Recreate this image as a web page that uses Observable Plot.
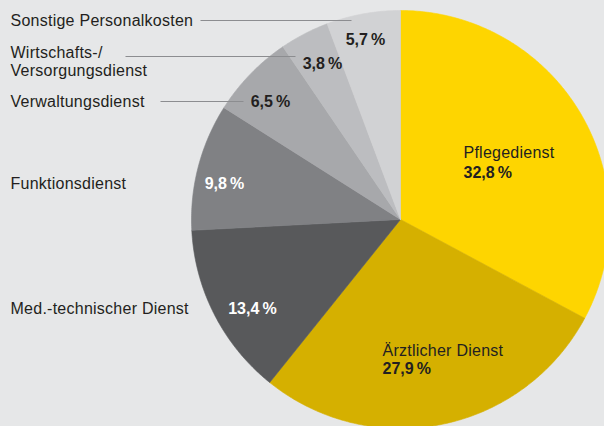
<!DOCTYPE html>
<html><head><meta charset="utf-8">
<script src="https://cdn.jsdelivr.net/npm/d3@7"></script>
<script src="https://cdn.jsdelivr.net/npm/@observablehq/plot@0.6"></script>
<style>
html,body{margin:0;padding:0;background:#e6e7e8;}
#chart{width:604px;height:426px;overflow:hidden;}
</style></head>
<body><div id="chart"></div>
<script>
// ---- data ----
const categories = ["Pflegedienst","Ärztlicher Dienst","Med.-technischer Dienst","Funktionsdienst","Verwaltungsdienst","Wirtschafts-/\nVersorgungsdienst","Sonstige Personalkosten"];
const shares = [32.8, 27.9, 13.4, 9.8, 6.5, 3.8, 5.7];
const valueLabels = ["32,8\u2009%","27,9\u2009%","13,4\u2009%","9,8\u2009%","6,5\u2009%","3,8\u2009%","5,7\u2009%"];

// ---- styles / layout ----
const colors = ["#fed500","#d5b000","#58595b","#808184","#a7a8ab","#bcbdc0","#d1d2d4"];
const R = 209, CX = 400, CY = 219, W = 604, H = 426;
const ux = p => (p - CX) / R, uy = p => (CY - p) / R;
const FONT = "Liberation Sans, Arial, sans-serif";

// pie slices via d3.pie, drawn as polygons through Plot scales
const arcs = d3.pie().sort(null).value(d => d)(shares);
const slicePts = arcs.map((a, i) => {
  const pts = [{x: 0, y: 0}];
  const n = Math.max(4, Math.ceil((a.endAngle - a.startAngle) / 0.01));
  for (let k = 0; k <= n; k++) {
    const t = a.startAngle + (a.endAngle - a.startAngle) * k / n;
    pts.push({x: Math.sin(t), y: Math.cos(t)});
  }
  pts.push({x: 0, y: 0});
  return pts;
});

// label layout (pixel anchors converted to data units)
const valuePos = [[463,172,"start","#231f20"],[382,368,"start","#231f20"],[252,308,"middle","#ffffff"],[224,183,"middle","#ffffff"],[270,101,"middle","#231f20"],[322,63,"middle","#231f20"],[365,39,"middle","#231f20"]];
const namePos = [[463,152,"start"],[382,350,"start"],[10,308,"start"],[10,183,"start"],[10,101,"start"],[10,61,"start"],[10,20,"start"]];
const leaders = [{x1:160,x2:243,y:101},{x1:125,x2:295,y:56},{x1:200,x2:351,y:20}];

const valueData = valueLabels.map((t, i) => ({t, x: ux(valuePos[i][0]), y: uy(valuePos[i][1]), a: valuePos[i][2], c: valuePos[i][3]}));
const nameData = categories.map((t, i) => ({t, x: ux(namePos[i][0]), y: uy(namePos[i][1]), a: namePos[i][2]}));

const marks = [];
slicePts.forEach((pts, i) => {
  marks.push(Plot.line(pts, {x: "x", y: "y", fill: colors[i], stroke: colors[i], strokeWidth: 0.6, curve: "linear"}));
});
marks.push(Plot.link(leaders, {x1: d => ux(d.x1), x2: d => ux(d.x2), y1: d => uy(d.y), y2: d => uy(d.y), stroke: "#8c8d90", strokeWidth: 1}));
for (const anchor of ["start","middle"]) {
  marks.push(Plot.text(nameData.filter(d => d.a === anchor), {x: "x", y: "y", text: "t", textAnchor: anchor, fill: "#231f20", fontSize: 16, lineHeight: 1.125, className: "nm"}));
  marks.push(Plot.text(valueData.filter(d => d.a === anchor), {x: "x", y: "y", text: "t", textAnchor: anchor, fill: "c", fontSize: 16, fontWeight: "bold"}));
}

const chart = Plot.plot({
  width: W, height: H, margin: 0,
  x: {domain: [ux(0), ux(W)], axis: null},
  y: {domain: [uy(H), uy(0)], axis: null},
  color: {type: "identity"},
  style: {background: "#e6e7e8", fontFamily: FONT},
  marks
});
chart.querySelectorAll("g[aria-label='text'] text").forEach(t => { if (t.getAttribute("font-weight") !== "bold" && !t.closest("[font-weight='bold']")) t.style.letterSpacing = "0.25px"; });
document.getElementById("chart").appendChild(chart);
</script></body></html>
